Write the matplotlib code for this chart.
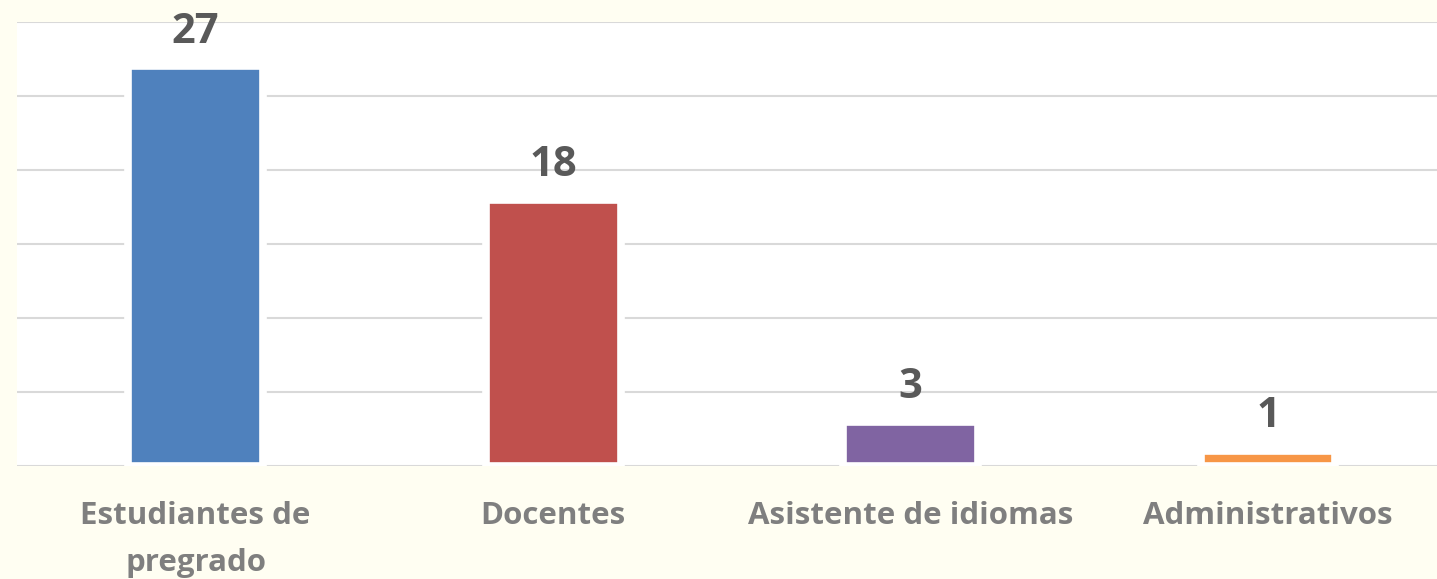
import matplotlib.pyplot as plt

# Datos
categorias = ["Estudiantes de\npregrado", "Docentes", "Asistente de idiomas", "Administrativos"]
valores = [27, 18, 3, 1]
colores = ["#4F81BD", "#C0504D", "#8064A2", "#F79646"]

fondo = "#FFFEF2"
fuente = "Open Sans"

fig = plt.figure(figsize=(14.37, 5.79), dpi=100, facecolor=fondo)
ax = fig.add_axes([0.0118, 0.195, 0.995, 0.767])
ax.set_facecolor("white")

x = list(range(len(categorias)))
ax.bar(x, valores, width=0.377, color=colores,
       edgecolor="white", linewidth=5.5, zorder=3)

# Etiquetas de valor sobre cada barra
for xi, v in zip(x, valores):
    ax.annotate(str(v), (xi, v), xytext=(0, 10), textcoords="offset points",
                ha="center", va="bottom", fontsize=30, fontweight="bold",
                color="#595959", family=fuente, zorder=4)

ax.set_xlim(-0.5, len(categorias) - 0.5)
ax.set_ylim(0, 30)
ax.set_yticks(range(0, 31, 5))
ax.yaxis.grid(True, color="#D9D9D9", linewidth=1.5, zorder=0)
ax.set_axisbelow(True)
ax.tick_params(axis="y", left=False, labelleft=False)

ax.set_xticks(x)
ax.set_xticklabels(categorias, fontsize=22.5, fontweight="bold", color="#7F7F7F",
                   family=fuente, linespacing=1.75)
ax.tick_params(axis="x", length=0, pad=25)

for s in ax.spines.values():
    s.set_visible(False)

fig.savefig("out.png", dpi=100, facecolor=fondo)
